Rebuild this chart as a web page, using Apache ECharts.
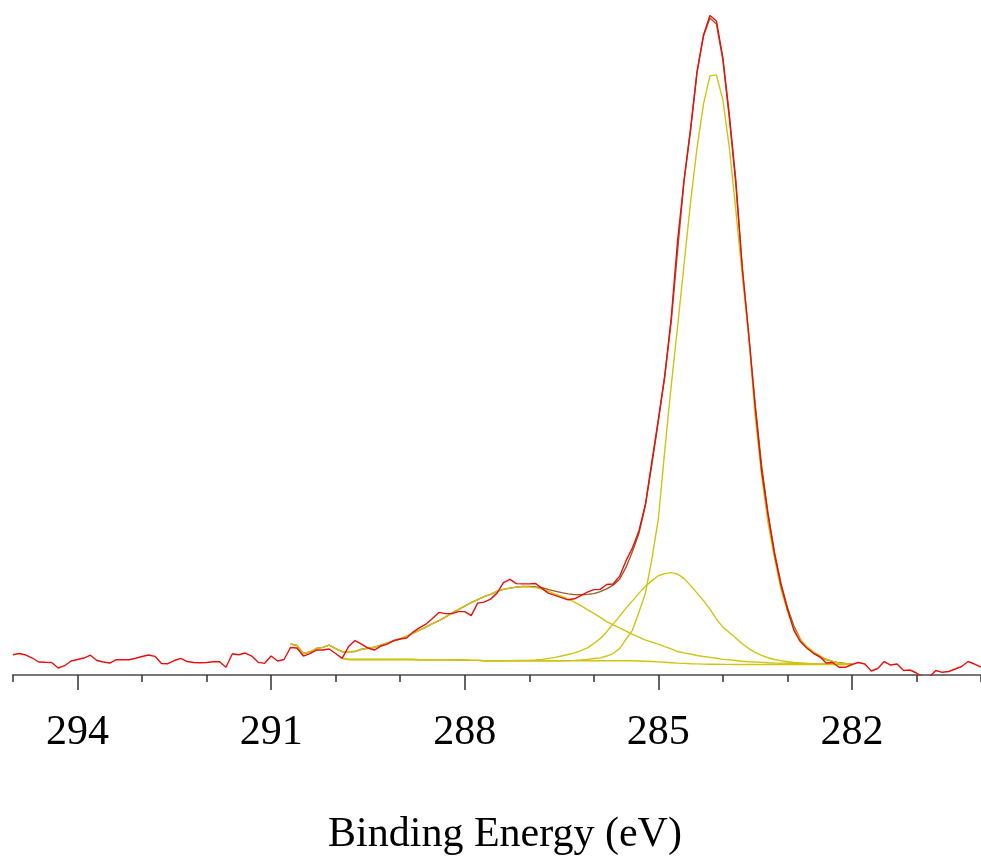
<!DOCTYPE html>
<html>
<head>
<meta charset="utf-8">
<script src="https://cdn.jsdelivr.net/npm/echarts@6/dist/echarts.min.js"></script>
<style>
  html, body { margin: 0; padding: 0; background: #fff; }
  #main { width: 981px; height: 861px; }
</style>
</head>
<body>
<div id="main"></div>
<script>
// energy grid: 295.0 eV down to 280.0 eV, 0.1 eV steps
var energyStart = 295.0;
var energyStep = 0.1;

// measured spectrum (151 points)
var counts = [
  20.3, 21.5, 20, 17, 13, 12.7, 12.5, 7, 9.3, 14,
  15.5, 17, 19.8, 14.5, 13, 12, 15.3, 15.3, 15.3, 16.8,
  18.5, 20, 18.7, 11.5, 11.3, 14.5, 16.7, 13.5, 12.5, 12.3,
  12.5, 13.3, 13.3, 7.7, 21.3, 20.3, 22, 19, 12.7, 11.7,
  19, 14, 15.5, 27.5, 27, 19, 21.5, 25, 25, 26,
  21.5, 16.7, 28.5, 34.5, 31, 27, 25, 29, 31, 34.5,
  36, 37, 43, 47.5, 51, 56.5, 62.7, 61.5, 61.5, 63.5,
  63.5, 59.5, 72, 73, 76, 82, 92.5, 95.8, 91.5, 91.3,
  91.3, 91.7, 86.5, 81.7, 79.7, 77.5, 75.3, 76.3, 79.5, 83,
  85.5, 85.8, 90.7, 91.2, 99, 114.5, 127.5, 144.5, 171, 214,
  256, 299.3, 358, 436, 496, 546, 604, 641, 660.5, 655,
  618, 561, 496, 408, 342, 269, 205, 160, 121, 90,
  66, 45, 33.5, 27, 22, 18.5, 12, 12.5, 7.7, 7.7,
  10.5, 12.5, 11, 4, 6.5, 13.5, 10, 11, 4.5, 5,
  2, -2, -2, 4.5, 2.7, 3.5, 6, 8.5, 13.5, 11,
  8
];

// fit envelope and first component start at grid index 43 (290.7 eV)
var envelopeStart = 43;
var envelope = [
  31, 29.5, 21.5, 23, 26.5, 27.7, 30,
  26.5, 23.3, 23.3, 23.5, 25.8, 26.8, 27.8, 30, 32.2, 34.2,
  36.2, 39, 42, 45, 48, 51.5, 54.5, 58, 62, 65.5,
  69, 72.5, 75.5, 78.5, 80.7, 83.7, 85.7, 87, 88, 88.7,
  88.7, 88.3, 87.4, 85.5, 84, 82.5, 81.3, 80.5, 80.3, 80.7,
  81.5, 83.5, 86.2, 90, 96, 108, 124, 142, 170, 211,
  254, 300, 354, 426, 496, 548, 604, 640, 658, 652,
  616, 558, 492, 408, 340, 271, 210, 162, 123, 92,
  68, 49, 36, 27.5, 22, 18, 15.5, 13.5, 12.2, 11.5, 11
];
var peak1 = [
  31, 29.5, 21.5, 23, 26.5, 27.7, 30,
  26.5, 23.3, 23.3, 23.5, 25.8, 26.8, 27.8, 30, 32.2, 34.2,
  36.2, 39, 42, 45, 48, 51.5, 54.5, 58, 62, 65.5,
  69, 72.5, 75.5, 78.5, 80.7, 83.7, 85.7, 87, 88, 88.7,
  88.3, 87.5, 86, 83.7, 81, 79, 76.3, 73, 69.5, 65.5,
  61.7, 57.7, 53.5, 50.3, 47.2, 44, 40.7, 38, 35, 33,
  31, 28.4, 26.2, 23.5, 22.2, 21, 19.5, 18.5, 17.7, 16.8,
  15.7, 15.2, 14.5, 13.8, 13.3, 13, 12.6, 12.2, 12, 11.9,
  11.8, 11.7, 11.6, 11.5, 11.4, 11.3, 11.1, 11, 10.8, 10.7, 10.5
];

// background and the other two components start at index 51 (289.9 eV)
var bgStart = 51;
var background = [
  16.7, 15.5, 15.5, 15.5, 15.5, 15.5, 15.5, 15.5, 15.5,
  15.5, 15.5, 15.5, 15.3, 15.3, 15.3, 15.3, 15.3, 15.3, 15,
  15, 14.6, 14.6, 14.3, 14.3, 14.3, 14.3, 14.3, 14.3, 14.3,
  14.3, 14.3, 14.3, 14.3, 14.3, 14.3, 14.3, 14.3, 14.3, 14.3,
  14.3, 14.2, 14.2, 14.2, 14.2, 14.2, 14.2, 14, 13.8, 13.5,
  13.1, 12.7, 12.3, 11.9, 11.6, 11.3, 11.1, 10.9, 10.8, 10.7,
  10.6, 10.6, 10.5, 10.5, 10.5, 10.5, 10.5, 10.5, 10.5, 10.5,
  10.5, 10.5, 10.5, 10.5, 10.5, 10.5, 10.5, 10.5, 10.5, 10.5, 10.5
];
var peak2 = [
  16.7, 15.5, 15.5, 15.5, 15.5, 15.5, 15.5, 15.5, 15.5,
  15.5, 15.5, 15.5, 15.3, 15.3, 15.3, 15.3, 15.3, 15.3, 15,
  15, 14.6, 14.6, 14.3, 14.3, 14.3, 14.3, 14.4, 14.5, 14.6,
  14.7, 15, 15.7, 16.7, 17.7, 19, 20.5, 22.2, 24.5, 27.2,
  31.5, 36.4, 43.4, 51, 59, 67, 74.5, 82, 88.8, 94.5,
  99.4, 101.5, 102.5, 101, 96.5, 89.5, 82, 74.5, 66, 56,
  48, 42.5, 37, 31.3, 26.5, 22.7, 19.7, 17.3, 15.5, 14.4,
  13.3, 12.5, 12, 11.5, 11.2, 11, 10.8, 10.7, 10.6, 10.5, 10.5
];
var peak3 = [
  16.7, 15.5, 15.5, 15.5, 15.5, 15.5, 15.5, 15.5, 15.5,
  15.5, 15.5, 15.5, 15.3, 15.3, 15.3, 15.3, 15.3, 15.3, 15,
  15, 14.6, 14.6, 14.3, 14.3, 14.3, 14.3, 14.3, 14.3, 14.3,
  14.3, 14.3, 14.3, 14.3, 14.3, 14.3, 14.4, 14.6, 15, 15.7,
  16.5, 17.2, 19, 21.5, 26.5, 36, 45, 63, 82, 116,
  156, 225, 290, 350, 412, 474, 528, 572, 600, 601,
  576, 528, 466, 401, 340, 260, 200, 152, 117, 86,
  64, 46.5, 35.5, 28.5, 23.5, 19.5, 16, 13.5, 12, 11, 10.5
];

var majorTicks = [294, 291, 288, 285, 282];

function toPairs(values, startIndex) {
  return values.map(function (v, k) {
    var e = +(energyStart - (startIndex + k) * energyStep).toFixed(1);
    return [e, v];
  });
}

var myChart = echarts.init(document.getElementById('main'));

var yellow = '#cfc410';
function lineSeries(name, values, start, color, width, z) {
  return {
    name: name,
    type: 'line',
    data: toPairs(values, start),
    showSymbol: false,
    symbol: 'none',
    clip: true,
    z: z,
    lineStyle: { color: color, width: width },
    emphasis: { disabled: true }
  };
}

var option = {
  animation: false,
  grid: { left: 13, right: 0, top: 6, bottom: 185 },
  xAxis: [
    {
      type: 'value',
      inverse: true,
      min: 280,
      max: 295,
      interval: 1,
      position: 'bottom',
      splitLine: { show: false },
      axisLine: { lineStyle: { color: '#777', width: 2 } },
      axisTick: { length: 7, lineStyle: { color: '#333', width: 1.5 } },
      axisLabel: {
        customValues: majorTicks,
        margin: 37,
        fontSize: 42,
        fontFamily: 'Liberation Serif',
        color: '#000'
      },
      name: 'Binding Energy (eV)',
      nameLocation: 'middle',
      nameGap: 139,
      nameTextStyle: {
        fontSize: 42,
        fontFamily: 'Liberation Serif',
        color: '#000',
        padding: [0, 0, 0, 16]
      }
    },
    {
      type: 'value',
      inverse: true,
      min: 280,
      max: 295,
      interval: 1,
      position: 'bottom',
      splitLine: { show: false },
      axisLine: { show: false },
      axisTick: { customValues: majorTicks, length: 15, lineStyle: { color: '#333', width: 1.5 } },
      axisLabel: { show: false }
    }
  ],
  yAxis: {
    type: 'value',
    min: 0,
    max: 670,
    show: false
  },
  series: [
    lineSeries('envelope', envelope, envelopeStart, '#9a5a2a', 1.4, 1),
    lineSeries('background', background, bgStart, yellow, 1.4, 2),
    lineSeries('C1', peak1, envelopeStart, yellow, 1.4, 2),
    lineSeries('C2', peak2, bgStart, yellow, 1.4, 2),
    lineSeries('C3', peak3, bgStart, yellow, 1.4, 2),
    lineSeries('data', counts, 0, '#e8100c', 1.4, 4)
  ]
};

myChart.setOption(option);
</script>
</body>
</html>
